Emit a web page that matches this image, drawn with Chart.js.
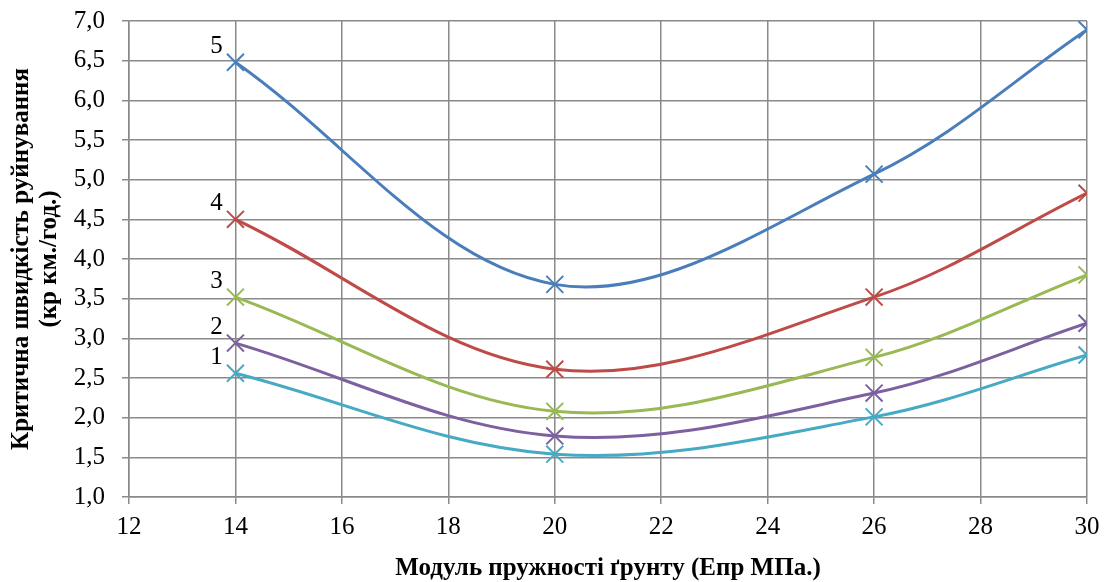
<!DOCTYPE html>
<html>
<head>
<meta charset="utf-8">
<script src="https://cdn.jsdelivr.net/npm/chart.js@4/dist/chart.umd.min.js"></script>
<style>
html,body{margin:0;padding:0;background:#fff;}
#wrap{width:1107px;height:582px;position:relative;}
</style>
</head>
<body>
<div id="wrap"><canvas id="c" width="1107" height="582"></canvas></div>
<script>
const xValues = [14, 20, 26, 30];
const seriesNames = ['1', '2', '3', '4', '5'];
const series1 = [2.56, 1.54, 2.01, 2.79];
const series2 = [2.94, 1.77, 2.31, 3.19];
const series3 = [3.52, 2.08, 2.76, 3.80];
const series4 = [4.50, 2.61, 3.52, 4.83];
const series5 = [6.48, 3.68, 5.07, 6.89];
const xTitle = 'Модуль пружності ґрунту (Епр МПа.)';
const yTitle = ['Критична швидкість руйнування', '(кр км./год.)'];
const colors = ['#46AAC5', '#7D60A0', '#98B954', '#BE4B48', '#4A7EBB'];

const allSeries = [series1, series2, series3, series4, series5];
const datasets = allSeries.map((s, i) => ({
  label: seriesNames[i],
  data: xValues.map((x, j) => ({x: x, y: s[j]})),
  borderColor: colors[i],
  backgroundColor: colors[i],
  borderWidth: 3,
  pointStyle: 'crossRot',
  pointRadius: 12,
  pointBorderWidth: 2,
  tension: 0.35,
  fill: false
}));

const FONT = 'Liberation Serif';

const seriesLabels = {
  id: 'seriesLabels',
  afterDatasetsDraw(chart) {
    const ctx = chart.ctx;
    ctx.save();
    ctx.font = '25px "Liberation Serif"';
    ctx.fillStyle = '#000';
    ctx.textAlign = 'center';
    ctx.textBaseline = 'middle';
    chart.data.datasets.forEach((ds, i) => {
      const pt = chart.getDatasetMeta(i).data[0];
      ctx.fillText(ds.label, pt.x - 19, pt.y - 16);
    });
    ctx.restore();
  }
};

const fmt = v => Number(v).toFixed(1).replace('.', ',');

new Chart(document.getElementById('c'), {
  type: 'line',
  data: { datasets: datasets },
  options: {
    responsive: false,
    animation: false,
    layout: { padding: { top: 21, right: 20, left: 0, bottom: 0 } },
    plugins: { legend: { display: false }, tooltip: { enabled: false } },
    scales: {
      x: {
        type: 'linear',
        min: 12, max: 30,
        ticks: { stepSize: 2, color: '#000', font: { family: FONT, size: 25 }, padding: 8, maxRotation: 0 },
        grid: { color: '#8a8a8a', lineWidth: 1.5, tickLength: 7 },
        border: { color: '#8a8a8a', width: 1.5 },
        title: { display: true, text: xTitle, color: '#000', font: { family: FONT, size: 25, weight: 'bold', lineHeight: 1.1 }, padding: { top: 0, bottom: 0 } },
        afterFit(scale) { scale.height = 85; scale.paddingLeft = 0; scale.paddingRight = 0; }
      },
      y: {
        min: 1, max: 7,
        ticks: { stepSize: 0.5, color: '#000', font: { family: FONT, size: 25 }, padding: 17, callback: v => fmt(v) },
        grid: { color: '#8a8a8a', lineWidth: 1.5, tickLength: 7 },
        border: { color: '#8a8a8a', width: 1.5 },
        title: { display: true, text: yTitle, color: '#000', font: { family: FONT, size: 25, weight: 'bold', lineHeight: 1.1 }, padding: { top: 8, bottom: 0 } },
        afterFit(scale) { scale.width = 129; scale.paddingTop = 0; scale.paddingBottom = 0; }
      }
    }
  },
  plugins: [seriesLabels]
});
</script>
</body>
</html>
